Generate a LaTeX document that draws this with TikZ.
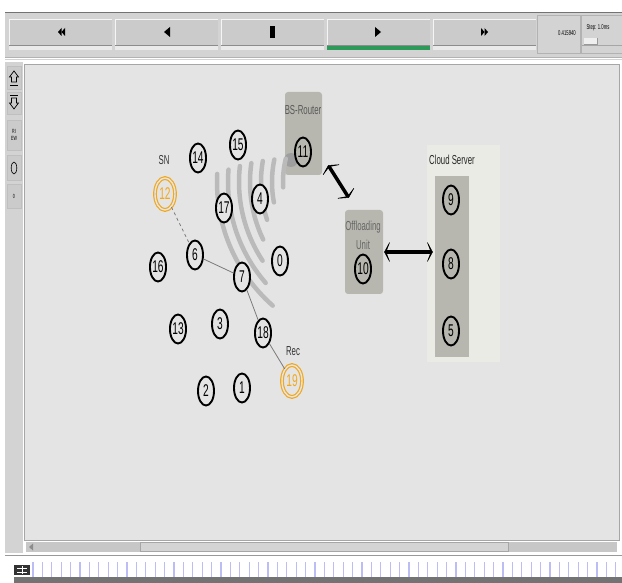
\documentclass[tikz,border=0pt]{standalone}
\usepackage{fontspec}
\usetikzlibrary{positioning,shapes.geometric,arrows.meta}
\newfontfamily\namfont[FakeStretch=0.6]{Liberation Sans}
\definecolor{canvas}{HTML}{E4E4E4}
\definecolor{panel}{HTML}{D3D3D3}
\definecolor{btn}{HTML}{CBCBCB}
\definecolor{boxgray}{HTML}{B7B7AF}
\definecolor{cloudbg}{HTML}{EBEBE6}
\definecolor{sinkorange}{HTML}{F2A81D}
\definecolor{wave}{HTML}{BABABA}
\definecolor{linkgray}{HTML}{7A7A7A}
\definecolor{playgreen}{HTML}{2E9A5A}
\definecolor{tick}{HTML}{BDBDF5}

\tikzset{
  mote/.style={ellipse, draw=black, line width=1.9pt, fill=canvas, minimum width=16pt,
    minimum height=29pt, inner sep=0pt, font=\namfont\fontsize{17}{17}\selectfont},
  endmote/.style={mote, draw=sinkorange, text=sinkorange, line width=1.2pt,
    double=canvas, double distance=1.4pt, minimum width=20pt, minimum height=32pt},
  tag/.style={font=\namfont\fontsize{13}{19}\selectfont, text=black!80, inner sep=0pt, align=center},
  zone/.style={fill=boxgray, rounded corners=3pt, inner sep=0pt},
  wifi/.style={wave, line width=4.5pt, line cap=round},
  link/.style={linkgray, line width=0.8pt},
  duplex/.style={line width=3.5pt, {Stealth[length=7pt,width=26pt,inset=5pt]}-{Stealth[length=7pt,width=26pt,inset=5pt]}},
  tbbtn/.style={fill=btn},
  sidebtn/.style={fill=btn, draw=black!25}
}

\begin{document}
\begin{tikzpicture}[x=1pt, y=-1pt]
\useasboundingbox (0,0) rectangle (622,583);
\fill[white] (0,0) rectangle (622,583);

% top toolbar
\fill[panel] (5,13) rectangle (622,60);
\draw[black!55, line width=1pt] (5,13) -- (622,13);
\foreach \bx in {9,115,221,327,433} {
  \fill[tbbtn] (\bx,19) rectangle ++(103,26);
  \draw[white!80!btn] (\bx,45) -- ++(0,-26) -- ++(103,0);
  \draw[black!45, line width=1pt] (\bx,45.5) -- ++(103,0);
  \fill[white!60!btn] (\bx,46.5) rectangle ++(103,3.5);
}
\fill[playgreen] (327,46) rectangle ++(103,4);
\fill (58,32) -- (61.5,28) -- (61.5,36) -- cycle;
\fill (61.5,32) -- (65,28) -- (65,36) -- cycle;
\fill (164,32) -- (170,27) -- (170,37) -- cycle;
\fill (270,26) rectangle (274.5,38);
\fill (381,32) -- (375,27) -- (375,37) -- cycle;
\fill (488,32) -- (484.5,28) -- (484.5,36) -- cycle;
\fill (484.5,32) -- (481,28) -- (481,36) -- cycle;
\draw[black!30] (537,15) rectangle (580,53);
\draw[black!30] (581,15) rectangle (622,53);
\node[font=\namfont\fontsize{7}{7}\selectfont, inner sep=0pt] (clock) at (567,33) {0.415940};
\node[font=\namfont\fontsize{7}{7}\selectfont, inner sep=0pt] (stepval) at (598,28) {Step: 1.0ms};
\draw[black!35] (582,45) -- (622,45);
\fill[white!70!btn] (584,38) rectangle (597,44);
\draw[black!40] (584,44) -- (597,44) -- (597,38);
\draw[black!30] (5,57) -- (622,57);
\draw[white] (5,58.5) -- (622,58.5);

% left toolbar
\fill[panel] (5,62) rectangle (23,553);
\foreach \ya/\yb in {66/89, 92/114, 120/150, 155/180, 184/208}
  \filldraw[sidebtn] (7,\ya) rectangle (21,\yb);
\draw[line width=0.7pt] (14,71) -- (18.5,77) -- (16.5,77) -- (16.5,82) -- (11.5,82) -- (11.5,77) -- (9.5,77) -- cycle;
\draw[line width=0.7pt] (10,85) -- (18,85);
\draw[line width=0.7pt] (14,109) -- (18.5,103) -- (16.5,103) -- (16.5,98) -- (11.5,98) -- (11.5,103) -- (9.5,103) -- cycle;
\draw[line width=0.7pt] (10,95) -- (18,95);
\node[font=\namfont\fontsize{6}{7}\selectfont, inner sep=0pt, align=center] (rview) at (14,135) {RI\\EW};
\draw[line width=0.6pt] (14,168) ellipse (2.8 and 6);
\node[font=\namfont\fontsize{6}{6}\selectfont, inner sep=0pt] (zero) at (14,196) {0};

% canvas
\fill[canvas] (24,64) rectangle (619,540);
\draw[black!35] (24,64) rectangle (619,540);

% scroll bar and time line
\fill[black!22] (26,542) rectangle (617,552);
\filldraw[fill=black!17, draw=black!35] (140,542) rectangle (508,551.5);
\fill[black!45] (29,547) -- (33,543.5) -- (33,550.5) -- cycle;
\draw[black!40] (5,555) -- (622,555);
\fill[white] (14,562) rectangle (622,577);
\foreach \tx in {33,42.4,...,620}
  \draw[tick, line width=1.2pt] (\tx,562) -- (\tx,577);
\fill[black!80] (14,565) rectangle (30,575);
\draw[white, line width=0.6pt] (17,568) -- (27,568) (17,572) -- (27,572) (22,566) -- (22,574);
\fill[black!55] (14,577) rectangle (622,583);

% cloud server and offloading boxes
\node[fill=cloudbg, minimum width=73pt, minimum height=217pt, inner sep=0pt] (cloudback) at (463.5,253.5) {};
\node[fill=boxgray, minimum width=34pt, minimum height=181pt, inner sep=0pt] (cloudcol) at (452,266.5) {};
\node[tag, text=black!85] (cloudlabel) at (452,160) {Cloud Server};
\node[zone, minimum width=37pt, minimum height=83pt] (bsbox) at (303.5,133.5) {};
\node[tag, text=black!65] (bslabel) at (303,110) {BS-Router};
\node[zone, minimum width=38pt, minimum height=84pt] (oubox) at (364,252) {};
\node[tag, text=black!60] (oulabel) at (363,235) {Offloading\\Unit};

% wireless waves
\fill[black!38] (291,160) circle (7);
\foreach \i in {0,...,6} {
  \pgfmathsetmacro\r{99+11*\i}
  \pgfmathsetmacro\sa{193.6-1.8*\i}
  \pgfmathsetmacro\ea{176.9-7.57*\i}
  \draw[wifi] plot[domain=\sa:\ea, samples=30, smooth] ({382+\r*cos(\x)},{182+\r*sin(\x)});
}

% sensor nodes
\node[mote] (n14) at (198,158) {14};
\node[mote] (n15) at (238,145) {15};
\node[endmote] (n12) at (165,194) {12};
\node[tag] (snlabel) at (164,160) {SN};
\node[mote] (n17) at (224,208) {17};
\node[mote] (n4) at (260,199) {4};
\node[mote] (n16) at (158,267) {16};
\node[mote] (n6) at (195,255) {6};
\node[mote] (n7) at (242,277) {7};
\node[mote] (n0) at (280,261) {0};
\node[mote] (n13) at (178,329) {13};
\node[mote] (n3) at (220,324) {3};
\node[mote] (n18) at (263,333) {18};
\node[endmote] (n19) at (292,381) {19};
\node[tag] (reclabel) at (293,351) {Rec};
\node[mote] (n2) at (206,391) {2};
\node[mote] (n1) at (242,388) {1};

% infrastructure nodes
\node[mote, fill=boxgray] (n11) at (303,152) {11};
\node[mote, fill=boxgray] (n10) at (363,269) {10};
\node[mote, fill=boxgray] (n9) at (451,200) {9};
\node[mote, fill=boxgray] (n8) at (451,264) {8};
\node[mote, fill=boxgray] (n5) at (451,331) {5};

% links
\draw[link, dashed] (n12) -- (n6);
\draw[link] (n6) -- (n7);
\draw[link] (n7) -- (n18);
\draw[link] (n18) -- (n19);
\draw[duplex] ([shift={(6,-10)}]bsbox.south east) -- ([shift={(4,-12)}]oubox.north west);
\draw[duplex, shorten <=1pt, shorten >=2pt] (oubox.east) -- (oubox.east -| cloudcol.west);
\end{tikzpicture}
\end{document}
